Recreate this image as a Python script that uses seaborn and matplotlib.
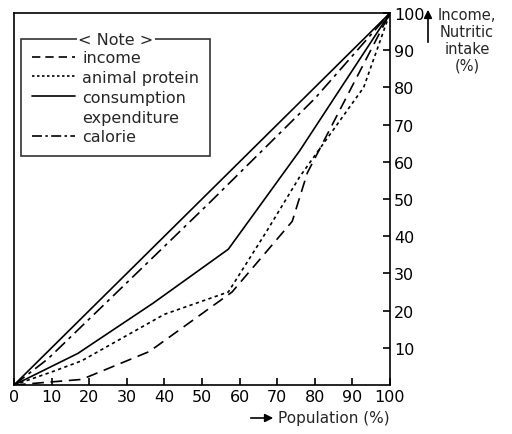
import numpy as np
import pandas as pd
import seaborn as sns
import matplotlib.pyplot as plt
from matplotlib.lines import Line2D

# values (population %, cumulative share %)
equality_x = [0, 100]
equality_y = [0, 100]

income_x = [0, 18, 36, 58, 74, 78, 100]
income_y = [0, 1.5, 9, 25, 44, 57, 100]

protein_x = [0, 10, 18, 40, 57, 67, 76, 93, 100]
protein_y = [0, 3.5, 6.5, 19, 25, 41, 56, 80, 100]

consumption_x = [0, 17, 37, 57, 76, 100]
consumption_y = [0, 8.5, 22, 36.5, 63, 100]

calorie_x = [0, 9, 30, 52, 80, 100]
calorie_y = [0, 7, 27.5, 49, 77, 100]

x_ticks = [0, 10, 20, 30, 40, 50, 60, 70, 80, 90, 100]
y_ticks = [10, 20, 30, 40, 50, 60, 70, 80, 90, 100]

sns.set_theme(style="white")
plt.rcParams['font.family'] = ['DejaVu Sans']

fig = plt.figure(figsize=(5.12, 4.35), dpi=100)
ax = fig.add_axes([14 / 512, 1 - 386 / 435, 376 / 512, 372 / 435])

lw = 1.2
sns.lineplot(x=equality_x, y=equality_y, ax=ax, color="black", lw=lw)
sns.lineplot(x=income_x, y=income_y, ax=ax, color="black", lw=lw,
             linestyle=(0, (7, 4)))
sns.lineplot(x=protein_x, y=protein_y, ax=ax, color="black", lw=lw,
             linestyle=(0, (2, 2)))
sns.lineplot(x=consumption_x, y=consumption_y, ax=ax, color="black", lw=lw)
sns.lineplot(x=calorie_x, y=calorie_y, ax=ax, color="black", lw=lw,
             linestyle=(0, (8, 3, 2, 3)))

ax.set_xlim(0, 100)
ax.set_ylim(0, 100)
ax.set_xticks(x_ticks)
ax.set_yticks(y_ticks)
ax.yaxis.tick_right()
ax.tick_params(axis="both", direction="in", length=5, width=1.2,
               colors="black", labelsize=11.5, pad=3)
ax.tick_params(axis="x", bottom=True)
ax.tick_params(axis="y", right=True)
for s in ax.spines.values():
    s.set_color("black")
    s.set_linewidth(1.2)
ax.set_xlabel("")
ax.set_ylabel("")

handles = [
    Line2D([], [], color="black", lw=lw, linestyle=(0, (5, 3))),
    Line2D([], [], color="black", lw=lw, linestyle=(0, (1.5, 1.5))),
    Line2D([], [], color="black", lw=lw),
    Line2D([], [], color="none"),
    Line2D([], [], color="black", lw=lw, linestyle=(0, (6, 2, 1.5, 2))),
]
labels = ["income", "animal protein", "consumption", "expenditure", "calorie"]
leg = ax.legend(handles, labels, loc="upper left", bbox_to_anchor=(0.018, 0.93),
                frameon=True, fancybox=False, edgecolor="black", fontsize=11.5,
                handlelength=2.7, handletextpad=0.45, labelspacing=0.3,
                borderpad=0.7, borderaxespad=0)
leg.get_frame().set_linewidth(1.2)

fig.canvas.draw()
bb = leg.get_window_extent().transformed(fig.transFigure.inverted())
fig.text((bb.x0 + bb.x1) / 2, bb.y1, "< Note >", ha="center", va="center",
         fontsize=11.5, bbox=dict(facecolor="white", edgecolor="none", pad=1))

# y axis title on the right with an upward arrow
fig.text(467 / 512, 1 - 8 / 435, "Income,\nNutritic\nintake\n(%)", ha="center",
         va="top", fontsize=10.5, linespacing=1.15)
fig.add_artist(plt.Annotation("", xy=(428 / 512, 1 - 8 / 435), xycoords="figure fraction",
                              xytext=(428 / 512, 1 - 46 / 435), textcoords="figure fraction",
                              arrowprops=dict(arrowstyle="-|>", color="black", lw=1.2)))

# x axis title with a right arrow
fig.add_artist(plt.Annotation("", xy=(276 / 512, 1 - 419 / 435), xycoords="figure fraction",
                              xytext=(248 / 512, 1 - 419 / 435), textcoords="figure fraction",
                              arrowprops=dict(arrowstyle="-|>", color="black", lw=1.2)))
fig.text(278 / 512, 1 - 419 / 435, "Population (%)", ha="left", va="center", fontsize=11)

fig.savefig("out.png", dpi=100)
